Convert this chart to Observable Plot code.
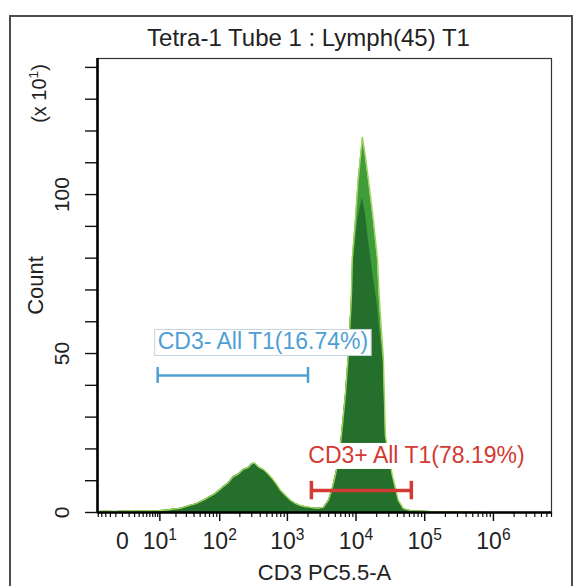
<!DOCTYPE html>
<html><head><meta charset="utf-8">
<script src="https://cdn.jsdelivr.net/npm/d3@7"></script>
<script src="https://cdn.jsdelivr.net/npm/@observablehq/plot@0.6"></script>
<style>
html,body{margin:0;padding:0;background:#fff;}
#wrap{position:relative;width:578px;height:586px;overflow:hidden;}
#border{position:absolute;left:9px;top:15px;width:560px;height:600px;border:2px solid #4d4d4d;pointer-events:none;}
</style></head>
<body><div id="wrap"><div id="border"></div></div>
<script>
const titleText = "Tetra-1 Tube 1 : Lymph(45) T1";
const xLabel = "CD3 PC5.5-A";
const yLabel = "Count";
const yUnit = "(x 10\u00B9)";

// histogram: CD3 PC5.5-A intensity and count (x 10)
const fluor = [-5.2, -3, -1, 0, 1.5, 3.3, 6, 10, 14, 18, 24, 30, 35, 42, 50, 60, 70, 80, 95, 114, 135, 160, 190, 226, 270, 300, 330, 380, 446, 520, 604, 700, 790, 950, 1100, 1300, 1550, 1850, 2170, 2500, 2830, 3350, 3960, 4500, 5000, 5500, 6100, 7000, 7700, 8550, 8850, 9800, 10800, 12400, 13700, 15100, 17900, 20500, 21900, 23500, 25000, 26800, 33800, 41300, 48900, 62000, 121000, 330000, 1000000, 7000000];
const countOuter = [0.3, 0.4, 0.3, 0.5, 0.4, 0.5, 0.4, 0.6, 0.8, 1.1, 1.3, 1.9, 2.3, 2.7, 3.4, 4.2, 5.0, 5.6, 6.8, 8.2, 9.4, 11.3, 12.1, 13.6, 14.2, 15.3, 15.6, 14.3, 13.5, 12.2, 10.6, 8.8, 7.0, 5.3, 3.9, 2.9, 2.2, 1.8, 1.6, 1.4, 1.3, 1.6, 3.8, 7.5, 11.7, 16, 23.7, 37, 49, 67, 80, 92, 105, 118, 112, 105, 92, 80, 67, 57, 49, 24, 11.7, 3.8, 1.2, 0.6, 0.3, 0.1, 0, 0];
const countInner = [0.3, 0.4, 0.3, 0.5, 0.4, 0.5, 0.4, 0.6, 0.8, 1.1, 1.3, 1.9, 2.3, 2.7, 3.4, 4.2, 5.0, 5.6, 6.8, 8.2, 9.4, 11.3, 12.1, 13.6, 14.2, 15.3, 15.6, 14.3, 13.5, 12.2, 10.6, 8.8, 7.0, 5.3, 3.9, 2.9, 2.2, 1.8, 1.6, 1.4, 1.3, 1.6, 3.8, 7.5, 11.7, 16, 23.7, 37, 49, 67, 76, 85, 93, 99, 94, 86, 74, 65, 58, 52, 47, 24, 11.7, 3.8, 1.2, 0.6, 0.3, 0.1, 0, 0];

// gates
const gateNames = ["CD3- All T1(16.74%)", "CD3+ All T1(78.19%)"];
const gateStart = [9, 2240];
const gateEnd = [2000, 63900];
const gateLevel = [43.1, 6.9];
const gateLabelLevel = [53.6, 17.9];
const gateLabelStart = [9, 2020];
const gateColors = ["#4f9fd5", "#d23a33"];

// axes
const xDomain = [-5.24, 7.0e6];
const yDomain = [0, 142.8];
const xLabelTicks = [0, 10, 100, 1000, 10000, 100000, 1000000];
const xTickLabels = ["0", "10\u00B9", "10\u00B2", "10\u00B3", "10\u2074", "10\u2075", "10\u2076"];
const xMajorTicks = [10, 100, 1000, 10000, 100000, 1000000];
const yTicks = d3.range(0, 141, 10);
const yTickLabels = [0, 50, 100];

const xMinorTicks = [
  ...d3.range(-5, 10, 1),
  ...[1, 2, 3, 4, 5].flatMap(e => d3.range(2, 10).map(m => m * 10 ** e)),
  ...d3.range(2, 8).map(m => m * 1e6)
];

const hist = fluor.map((f, i) => ({f, outer: countOuter[i], inner: countInner[i]}));
const gates = gateNames.map((name, i) => ({
  name, start: gateStart[i], end: gateEnd[i], level: gateLevel[i],
  labelLevel: gateLabelLevel[i], labelStart: gateLabelStart[i], color: gateColors[i]
}));
const labelMap = new Map(xLabelTicks.map((t, i) => [t, xTickLabels[i]]));
const capHalf = [2.5, 2.9];
const barWidth = [2.5, 3.5];

const font = "'Liberation Sans', Arial, Helvetica, sans-serif";
const ink = "#222";

const gateMarks = gates.flatMap((g, i) => [
  Plot.ruleY([g], {x1: "start", x2: "end", y: "level", stroke: g.color, strokeWidth: barWidth[i]}),
  Plot.ruleX([g], {x: "start", y1: d => d.level - capHalf[i], y2: d => d.level + capHalf[i], stroke: g.color, strokeWidth: barWidth[i]}),
  Plot.ruleX([g], {x: "end", y1: d => d.level - capHalf[i], y2: d => d.level + capHalf[i], stroke: g.color, strokeWidth: barWidth[i]})
]);

const chart = Plot.plot({
  width: 578,
  height: 586,
  marginLeft: 97,
  marginRight: 27,
  marginTop: 58,
  marginBottom: 74,
  style: {fontFamily: font, background: "white", overflow: "visible"},
  x: {type: "symlog", constant: 4, domain: xDomain, label: null},
  y: {domain: yDomain, label: null},
  marks: [
    Plot.areaY(hist, {x: "f", y: "outer", fill: "#3f9c3a", curve: "linear"}),
    Plot.areaY(hist, {x: "f", y: "inner", fill: "#236f2b", curve: "linear"}),
    Plot.lineY(hist, {x: "f", y: "outer", stroke: "#9fd35a", strokeWidth: 1.4, curve: "linear"}),
    Plot.frame({stroke: "#333", strokeWidth: 1.2}),
    Plot.axisX({ticks: xMinorTicks, tickSize: 5, strokeWidth: 1.2, stroke: "#111", fill: "none", label: null}),
    Plot.axisX({ticks: xMajorTicks, tickSize: 9, strokeWidth: 1.5, stroke: "#111", fill: "none", label: null}),
    Plot.axisX({ticks: xLabelTicks, tickFormat: d => labelMap.get(d), tickSize: 9, tickPadding: 11, fontSize: 23, stroke: "none", fill: ink, label: null}),
    Plot.axisY({ticks: yTicks, tickSize: 12, strokeWidth: 1.4, stroke: "#111", fill: "none", label: null}),
    Plot.ruleY([yDomain[0]], {stroke: "#000", strokeWidth: 2.6}),
    Plot.ruleX([xDomain[0]], {stroke: "#000", strokeWidth: 2.6}),
    Plot.text(yTickLabels, {y: d => d, text: d => String(d), frameAnchor: "left", dx: -35, rotate: -90, textAnchor: "middle", lineAnchor: "middle", fontSize: 21, fill: ink}),
    Plot.text([yLabel], {text: d => d, frameAnchor: "left", dx: -62, rotate: -90, textAnchor: "middle", lineAnchor: "middle", fontSize: 22, fill: ink}),
    Plot.text([yUnit], {text: d => d, frameAnchor: "top-left", dx: -58, dy: 35, rotate: -90, textAnchor: "middle", lineAnchor: "middle", fontSize: 20, fill: ink}),
    Plot.text([titleText], {text: d => d, frameAnchor: "top", dx: -16, dy: -20, textAnchor: "middle", lineAnchor: "middle", fontSize: 24, fill: ink}),
    Plot.text([xLabel], {text: d => d, frameAnchor: "bottom", dy: 60, textAnchor: "middle", lineAnchor: "middle", fontSize: 22, fill: ink}),
    ...gateMarks,
    Plot.text(gates, {x: "labelStart", y: "labelLevel", text: "name", fill: "color", textAnchor: "start", lineAnchor: "middle", fontSize: 23})
  ]
});
document.getElementById("wrap").prepend(chart);

// superscripts as raised tspans
const supMap = {"\u00B9": "1", "\u00B2": "2", "\u00B3": "3", "\u2074": "4", "\u2075": "5", "\u2076": "6"};
chart.querySelectorAll("text").forEach(t => {
  const s = t.textContent;
  const m = s.match(/^(.*10)([\u00B9\u00B2\u00B3\u2074\u2075\u2076])(.*)$/);
  if (!m) return;
  const fs = parseFloat(getComputedStyle(t).fontSize) || 20;
  while (t.firstChild) t.removeChild(t.firstChild);
  const ns = "http://www.w3.org/2000/svg";
  const a = document.createElementNS(ns, "tspan"); a.textContent = m[1]; t.appendChild(a);
  const b = document.createElementNS(ns, "tspan"); b.textContent = supMap[m[2]];
  b.setAttribute("font-size", (fs * 0.68).toFixed(1)); b.setAttribute("dy", (-fs * 0.38).toFixed(1)); t.appendChild(b);
  if (m[3]) {
    const c = document.createElementNS(ns, "tspan"); c.textContent = m[3];
    c.setAttribute("dy", (fs * 0.38).toFixed(1)); t.appendChild(c);
  }
});

// white boxes behind gate labels
chart.querySelectorAll("text").forEach(t => {
  const idx = gateNames.indexOf(t.textContent);
  if (idx < 0) return;
  const b = t.getBBox();
  const r = document.createElementNS("http://www.w3.org/2000/svg", "rect");
  r.setAttribute("x", b.x - 3);
  r.setAttribute("y", b.y + 1);
  r.setAttribute("width", b.width + 6);
  r.setAttribute("height", b.height);
  r.setAttribute("fill", "white");
  r.setAttribute("stroke", idx === 0 ? "#c5d3df" : "none");
  r.setAttribute("stroke-width", "1");
  const tr = t.getAttribute("transform");
  if (tr) r.setAttribute("transform", tr);
  t.parentNode.insertBefore(r, t);
});
</script>
</body></html>
